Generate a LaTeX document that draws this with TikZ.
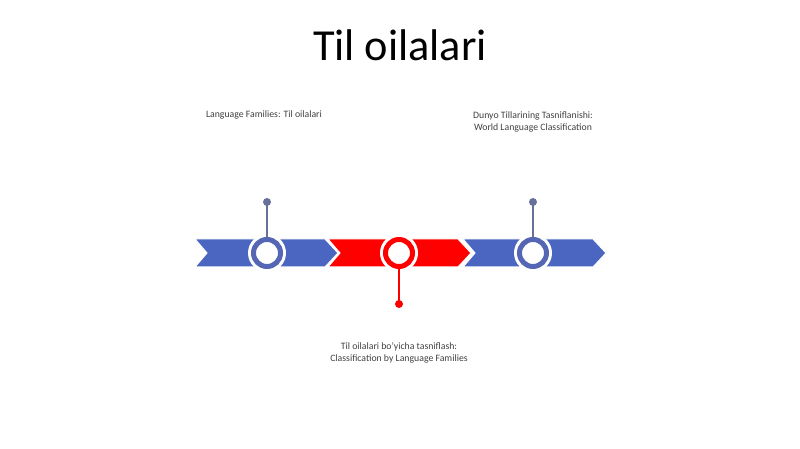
\documentclass[tikz,border=0pt]{standalone}
\usepackage{fontspec}
\setmainfont{Carlito}
\definecolor{bandblue}{HTML}{4A66C0}
\definecolor{ringblue}{HTML}{5566B4}
\definecolor{pinblue}{HTML}{67709A}
\definecolor{bandred}{HTML}{FF0000}
\definecolor{labelgray}{HTML}{404040}
\tikzset{
  ring/.style={circle, draw=#1, line width=5bp, fill=white, minimum size=27bp, inner sep=0pt},
  note/.style={text=labelgray, align=center, font=\fontsize{9.8}{11.5}\selectfont, inner sep=0pt}
}
\begin{document}
\begin{tikzpicture}[x=1bp, y=-1bp]
      \useasboundingbox (0,0) rectangle (800,449);
      \node (title) at (400,45) {\fontsize{44.5}{48}\selectfont Til oilalari};
      % timeline band
      \foreach \x/\c in {195/bandblue, 328/bandred, 463/bandblue}
        \draw [white, line width=1bp, fill=\c] (\x,239) -- (\x+130,239) -- (\x+143,253)
          -- (\x+130,267) -- (\x,267) -- (\x+12,253) -- cycle;
      % markers
      \coordinate (p1) at (267,253);
      \coordinate (p2) at (399,253);
      \coordinate (p3) at (533,253);
      \fill [white] (p1) circle (19) (p2) circle (19) (p3) circle (19);
      \node [ring=ringblue] (c1) at (p1) {};
      \node [ring=bandred] (c2) at (p2) {};
      \node [ring=ringblue] (c3) at (p3) {};
      % pins
      \coordinate (t1) at (267,202);
      \coordinate (t2) at (399,304);
      \coordinate (t3) at (533,202);
      \draw [pinblue, line width=1.5bp] (c1) -- (t1);
      \draw [bandred, line width=1.5bp] (c2) -- (t2);
      \draw [pinblue, line width=1.5bp] (c3) -- (t3);
      \fill [pinblue] (t1) circle (4) (t3) circle (4);
      \fill [bandred] (t2) circle (4);
      % labels
      \node [note] (l1) at (264,115) {Language Families: Til oilalari};
      \node [note] (l3) at (533,122) {Dunyo Tillarining Tasniflanishi:\\World Language Classification};
      \node [note] (l2) at (399,353) {Til oilalari bo'yicha tasniflash:\\Classification by Language Families};
\end{tikzpicture}
\end{document}
